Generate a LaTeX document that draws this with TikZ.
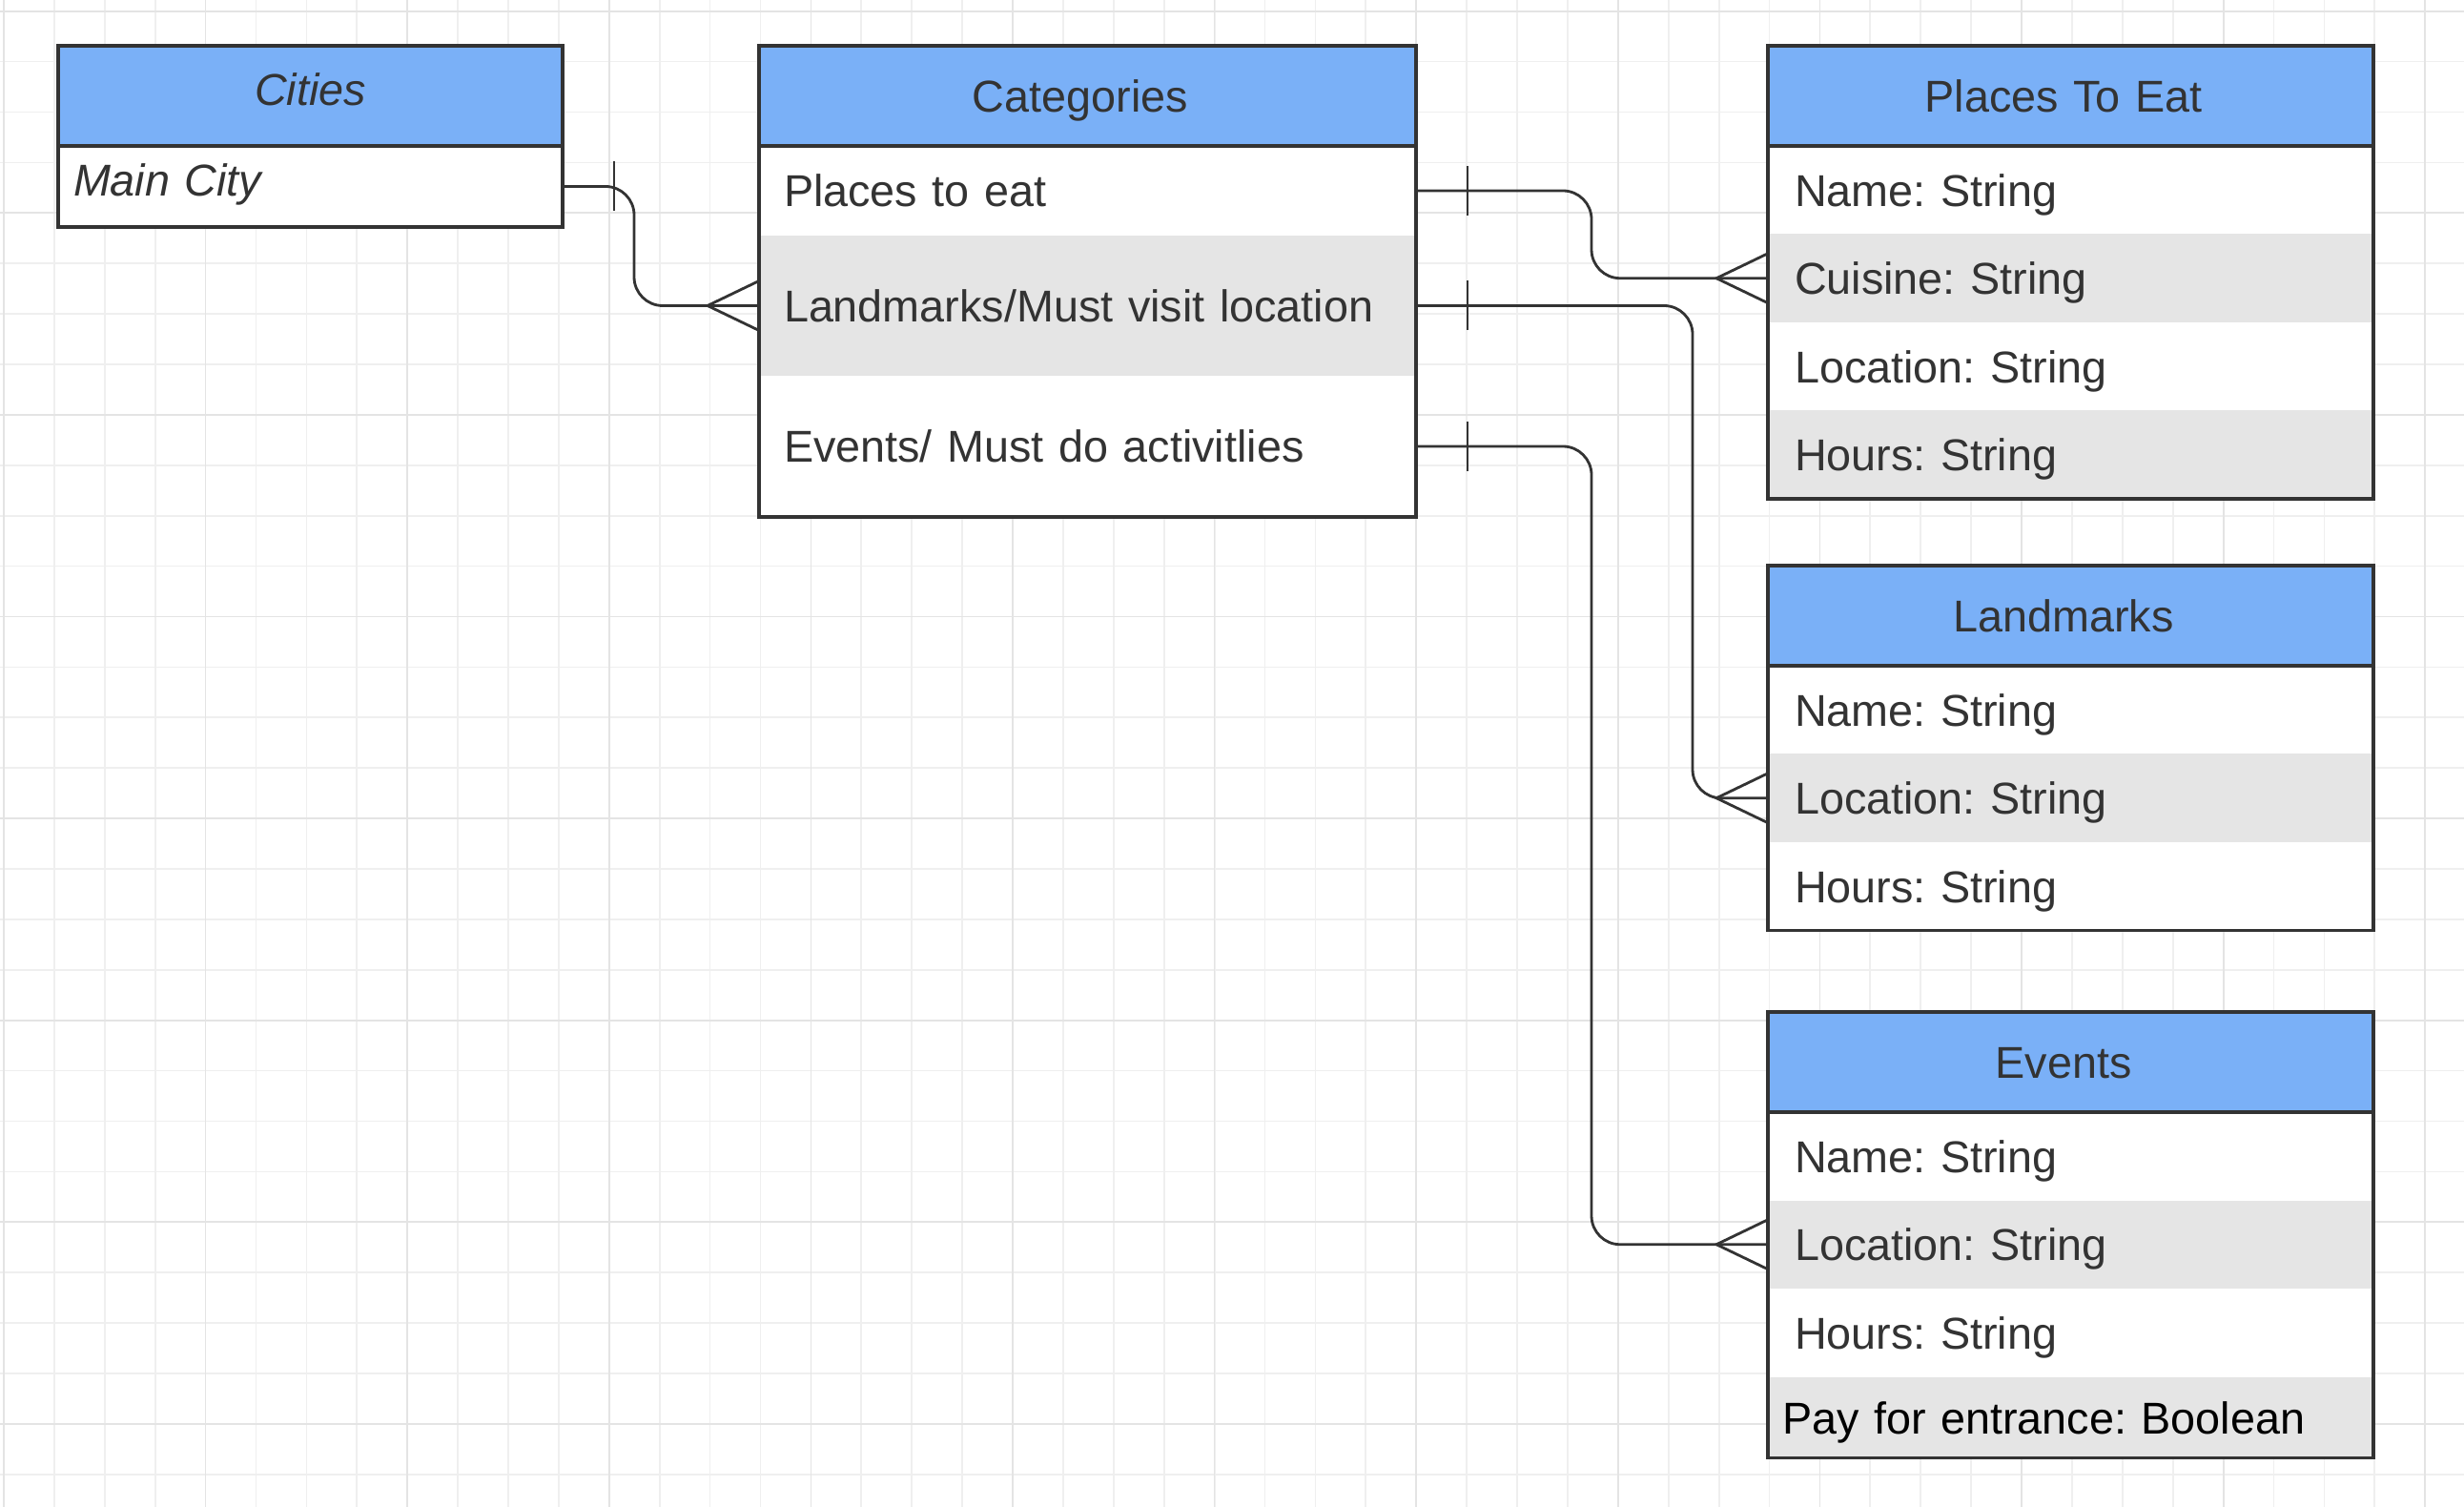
\documentclass[tikz,border=0pt]{standalone}
\usepackage{fontspec}
\setmainfont{Liberation Sans}
\usepackage{xcolor}
\usepackage{tikz}
\usetikzlibrary{positioning}
\frenchspacing
\definecolor{figline}{RGB}{51,51,51}
\definecolor{figtext}{RGB}{51,51,51}
\definecolor{hdblue}{RGB}{122,176,247}
\definecolor{rowgray}{RGB}{229,229,229}
\definecolor{gridmin}{RGB}{239,239,239}
\definecolor{gridmaj}{RGB}{228,228,228}
\tikzset{
  ent/.style ={outer sep=0pt, inner ysep=0pt, text height=0.42cm, text depth=0.08cm, text=figtext, font=\fontsize{13.3}{16}\selectfont},
  hd/.style  ={ent, fill=hdblue, align=center, minimum height=1.05cm},
  hdo/.style ={hd, execute at end node={\hspace*{0.15cm}}},
  atr/.style ={ent, fill=white, align=left, minimum height=0.925cm},
  atrg/.style={atr, fill=rowgray},
  cw/.style  ={text width=4.97cm, inner xsep=0.16cm, text height=0.29cm},
  kw/.style  ={text width=6.37cm, inner xsep=0.26cm},
  rw/.style  ={text width=5.79cm, inner xsep=0.28cm},
  bx/.style  ={draw=figline, line width=0.9pt},
  rel/.style ={draw=figline, line width=0.8pt, rounded corners=0.3cm},
  mk/.style  ={draw=figline, line width=0.8pt},
  gmin/.style={draw=gridmin, line width=0.5pt, step=0.529},
  gmaj/.style={draw=gridmaj, line width=0.5pt, step=2.116},
}
\begin{document}
\begin{tikzpicture}
  \useasboundingbox (0,0) rectangle (25.84,-15.80);
  \fill[white] (0,0) rectangle (25.84,-15.80);
  \begin{scope}
    \clip (0,0) rectangle (25.84,-15.80);
    \begin{scope}[shift={(0.04,-0.117)}]
      \draw[gmin] (-1.058,1.058) grid (26.45,-16.93);
      \draw[gmaj] (-2.116,2.116) grid (27.51,-16.93);
    \end{scope}
  \end{scope}

  \node[hd, cw, anchor=north west] (cities) at (0.61,-0.48) {\itshape Cities};
  \node[atr, cw, minimum height=0.85cm, below=0pt of cities] (maincity) {\itshape Main City};
  \draw[bx] (cities.north west) rectangle (maincity.south east);
  \draw[bx] (cities.south west) -- (cities.south east);

  \node[hdo, kw, anchor=north west] (cat) at (7.96,-0.48) {Categories};
  \node[atr, kw, minimum height=0.94cm, below=0pt of cat] (catpl) {Places to eat};
  \node[atrg, kw, minimum height=1.47cm, below=0pt of catpl] (catlm) {Landmarks/Must visit location};
  \node[atr, kw, minimum height=1.48cm, below=0pt of catlm] (catev) {Events/ Must do activitlies};
  \draw[bx] (cat.north west) rectangle (catev.south east);
  \draw[bx] (cat.south west) -- (cat.south east);

  \node[hdo, rw, anchor=north west] (pte) at (18.54,-0.48) {Places To Eat};
  \node[atr, rw, below=0pt of pte] (pten) {Name: String};
  \node[atrg, rw, below=0pt of pten] (ptec) {Cuisine: String};
  \node[atr, rw, below=0pt of ptec] (ptel) {Location: String};
  \node[atrg, rw, below=0pt of ptel] (pteh) {Hours: String};
  \draw[bx] (pte.north west) rectangle (pteh.south east);
  \draw[bx] (pte.south west) -- (pte.south east);

  \node[hdo, rw, anchor=north west] (lmk) at (18.54,-5.93) {Landmarks};
  \node[atr, rw, below=0pt of lmk] (lmkn) {Name: String};
  \node[atrg, rw, below=0pt of lmkn] (lmkl) {Location: String};
  \node[atr, rw, below=0pt of lmkl] (lmkh) {Hours: String};
  \draw[bx] (lmk.north west) rectangle (lmkh.south east);
  \draw[bx] (lmk.south west) -- (lmk.south east);

  \node[hdo, rw, anchor=north west] (evt) at (18.54,-10.61) {Events};
  \node[atr, rw, below=0pt of evt] (evtn) {Name: String};
  \node[atrg, rw, below=0pt of evtn] (evtl) {Location: String};
  \node[atr, rw, below=0pt of evtl] (evth) {Hours: String};
  \node[atrg, text width=6.05cm, inner xsep=0.15cm, minimum height=0.85cm, text=black, below=0pt of evth] (evtp) {Pay for entrance: Boolean};
  \draw[bx] (evt.north west) rectangle (evtp.south east);
  \draw[bx] (evt.south west) -- (evt.south east);

  \coordinate (j1) at (6.65,0);
  \coordinate (j2) at (16.69,0);
  \coordinate (j3) at (17.75,0);
  \draw[rel] (maincity.east) -| (j1 |- catlm.west) -- (catlm.west);
  \draw[rel] (catpl.east) -| (j2 |- ptec.west) -- (ptec.west);
  \draw[rel] (catlm.east) -| (j3 |- lmkl.west) -- (lmkl.west);
  \draw[rel] (catev.east) -| (j2 |- evtl.west) -- (evtl.west);

  \draw[mk] (maincity.east) ++(0.54,0.26) -- ++(0,-0.52);
  \draw[mk] (catpl.east) ++(0.54,0.26) -- ++(0,-0.52);
  \draw[mk] (catlm.east) ++(0.54,0.26) -- ++(0,-0.52);
  \draw[mk] (catev.east) ++(0.54,0.26) -- ++(0,-0.52);
  \draw[mk] (catlm.west) ++(0,0.26) -- ++(-0.54,-0.26) -- ++(0.54,-0.26);
  \draw[mk] (ptec.west) ++(0,0.26) -- ++(-0.54,-0.26) -- ++(0.54,-0.26);
  \draw[mk] (lmkl.west) ++(0,0.26) -- ++(-0.54,-0.26) -- ++(0.54,-0.26);
  \draw[mk] (evtl.west) ++(0,0.26) -- ++(-0.54,-0.26) -- ++(0.54,-0.26);
\end{tikzpicture}
\end{document}
